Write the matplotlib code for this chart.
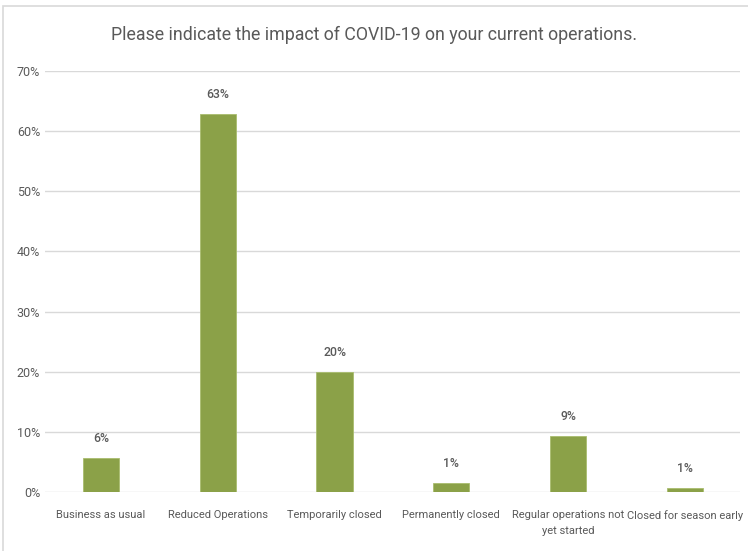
import matplotlib.pyplot as plt
from matplotlib.patches import Rectangle
from matplotlib.ticker import PercentFormatter

categories = ["Business as usual", "Reduced Operations", "Temporarily closed",
              "Permanently closed", "Regular operations not\nyet started",
              "Closed for season early"]
values = [5.7, 62.8, 20.0, 1.5, 9.3, 0.7]
labels = ["6%", "63%", "20%", "1%", "9%", "1%"]

plt.rcParams['font.family'] = ['Roboto', 'DejaVu Sans']

fig = plt.figure(figsize=(7.48, 5.51), dpi=100)
ax = fig.add_axes([0.06, 0.107, 0.929, 0.764])

x = range(len(categories))
bars = ax.bar(x, values, width=0.31, color="#8ba148", edgecolor="#a9bd6e", linewidth=0.6, zorder=3)

for b, lab in zip(bars, labels):
    ax.text(b.get_x() + b.get_width() / 2, b.get_height() + 2.2, lab,
            ha="center", va="bottom", fontsize=8.8, color="#595959", fontweight="medium")

ax.set_ylim(0, 70)
ax.set_xlim(-0.48, 5.47)
ax.set_yticks(range(0, 71, 10))
ax.yaxis.set_major_formatter(PercentFormatter(decimals=0))
ax.set_xticks(list(x))
ax.set_xticklabels(categories, fontsize=8, linespacing=1.8)
ax.grid(axis="y", color="#d9d9d9", linewidth=1, zorder=0)
ax.tick_params(axis="both", length=0, colors="#595959")
ax.tick_params(axis="y", labelsize=9)
ax.tick_params(axis="x", pad=13)
for side in ["top", "right", "left", "bottom"]:
    ax.spines[side].set_visible(False)

fig.text(0.5, 0.936, "Please indicate the impact of COVID-19 on your current operations.",
         ha="center", va="center", fontsize=12.8, color="#595959")

fig.patches.append(Rectangle((0.004, -0.01), 1.1, 1.0, transform=fig.transFigure,
                             fill=False, edgecolor="#d9d9d9", linewidth=1.2))

fig.savefig("out.png", dpi=100)
